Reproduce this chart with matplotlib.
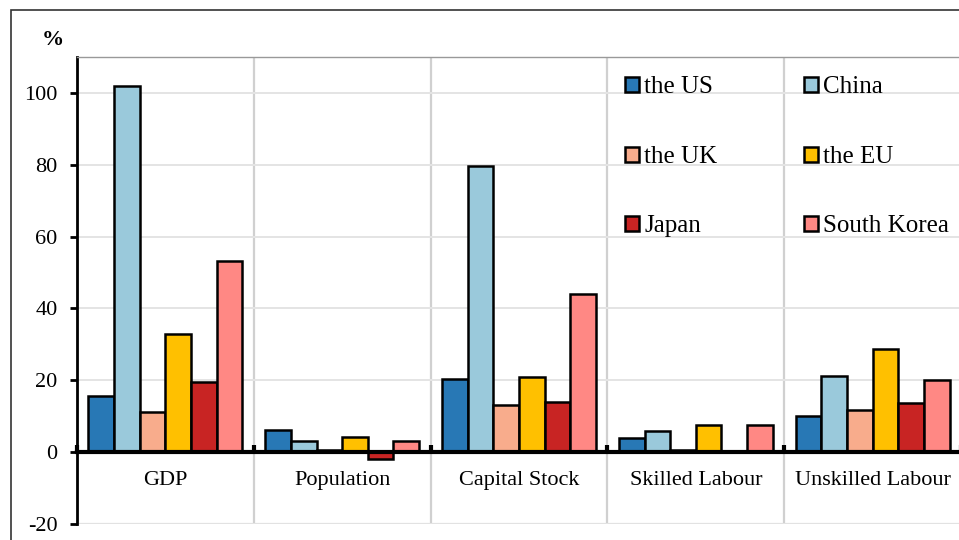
import matplotlib

matplotlib.use("Agg")
import matplotlib.pyplot as plt
import numpy as np
from matplotlib.patches import Rectangle

plt.rcParams["font.family"] = ["Liberation Serif", "DejaVu Serif"]

categories = ["GDP", "Population", "Capital Stock", "Skilled Labour", "Unskilled Labour"]
countries = ["the US", "China", "the UK", "the EU", "Japan", "South Korea"]
colors = ["#2878B5", "#9AC9DB", "#F8AC8C", "#FFC000", "#C82423", "#FF8884"]

# percentage change by country, one list per category order above
us = [15.6, 6.1, 20.3, 3.9, 10.2]
china = [102.0, 3.1, 79.7, 5.9, 21.1]
uk = [11.2, 0.7, 13.1, 0.5, 11.7]
eu = [33.0, 4.1, 20.8, 7.6, 28.6]
japan = [19.4, -2.0, 13.9, 0.4, 13.7]
korea = [53.2, 3.0, 43.9, 7.5, 20.0]
series = [us, china, uk, eu, japan, korea]

yticks = [-20, 0, 20, 40, 60, 80, 100]
fs = 16

fig = plt.figure(figsize=(9.59, 5.40), dpi=100)
ax = fig.add_axes([77 / 959, 1 - 524 / 540, 884 / 959, (524 - 57) / 540])

n = len(countries)
width = 0.145
x = np.arange(len(categories)) + 0.5
bars = []
for i, (vals, col, name) in enumerate(zip(series, colors, countries)):
    offs = (i - (n - 1) / 2) * width
    b = ax.bar(x + offs, vals, width=width, color=col, edgecolor="black",
               linewidth=1.8, label=name, zorder=3)
    bars.append(b)

ax.set_xlim(0, len(categories))
ax.set_ylim(-20, 110)
ax.set_yticks(yticks)
ax.set_yticklabels([str(v) for v in yticks], fontsize=fs)
ax.set_xticks(np.arange(len(categories) + 1))
ax.set_xticklabels([])

# separators between groups and light horizontal grid
ax.grid(axis="x", color="#d0d0d0", linewidth=1.6, zorder=0)
ax.grid(axis="y", color="#e4e4e4", linewidth=1.4, zorder=0)

ax.spines["bottom"].set_position(("data", 0))
ax.spines["bottom"].set_linewidth(3)
ax.spines["bottom"].set_zorder(4)
ax.spines["left"].set_linewidth(2)
ax.spines["top"].set_color("#999999")
ax.spines["top"].set_linewidth(1)
ax.spines["right"].set_visible(False)
ax.tick_params(axis="x", direction="in", length=5, width=3, colors="black")
ax.tick_params(axis="y", direction="out", length=5, width=2, pad=9)
ax.axhline(-20, color="#aaaaaa", linewidth=1.5, zorder=1)

for xi, name in zip(x, categories):
    ax.text(xi, -7.8, name, ha="center", va="center", fontsize=fs)

# legend is filled column by column, so put the entries in row order
order = [0, 2, 4, 1, 3, 5]
ax.legend([bars[k] for k in order], [countries[k] for k in order],
          loc="upper left", bbox_to_anchor=(625 / 959, 1 - 76.5 / 540),
          bbox_transform=fig.transFigure, ncol=2, frameon=False, fontsize=18,
          handlelength=0.56, handleheight=0.56, handletextpad=0.22,
          labelspacing=1.9, columnspacing=3.44, borderaxespad=0, borderpad=0)

fig.text(53 / 959, 1 - 40 / 540, "%", fontsize=fs, fontweight="bold",
         ha="center", va="center")

fig.patches.append(Rectangle((11 / 959, -0.2), 1.2, 1.2 - 10 / 540,
                             transform=fig.transFigure, fill=False,
                             edgecolor="#333333", linewidth=1.2))

fig.savefig("out.png", dpi=100)
